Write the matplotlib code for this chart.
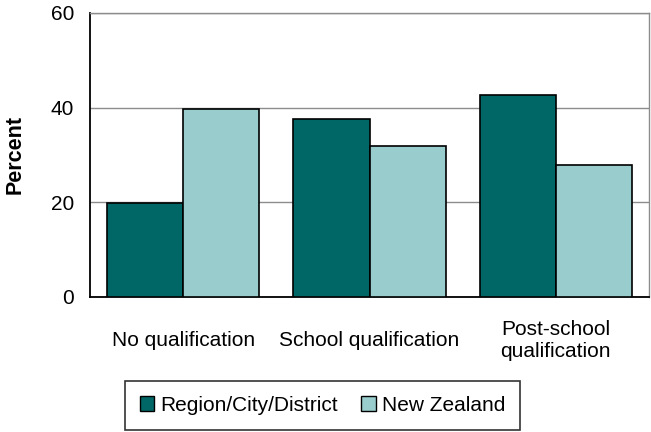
import matplotlib
matplotlib.use("Agg")
import matplotlib.pyplot as plt
from matplotlib.patches import Patch
import numpy as np

categories = ["No qualification", "School qualification", "Post-school\nqualification"]
series_names = ["Region/City/District", "New Zealand"]
region_values = [19.8, 37.6, 42.6]
nz_values = [39.7, 32.0, 27.9]
y_ticks = [0, 20, 40, 60]
colors = ["#006666", "#99CCCC"]

plt.rcParams['font.family'] = ['Liberation Sans', 'DejaVu Sans']
FS = 15

W, H = 651, 432
fig = plt.figure(figsize=(W / 100, H / 100), dpi=100)
ax = fig.add_axes([90 / W, (H - 297) / H, 559 / W, 284 / H])

x = np.arange(len(categories))
bw = 0.408
ax.bar(x - bw / 2, region_values, bw, color=colors[0], edgecolor="black", linewidth=1.2, zorder=3)
ax.bar(x + bw / 2, nz_values, bw, color=colors[1], edgecolor="black", linewidth=1.2, zorder=3)

ax.set_xlim(-0.5, 2.5)
ax.set_ylim(0, 60)
ax.set_yticks(y_ticks)
ax.set_yticklabels([str(v) for v in y_ticks], fontsize=FS)
ax.yaxis.grid(True, color="#8c8c8c", linewidth=1.0, zorder=0)
ax.set_axisbelow(True)

ax.set_xticks(x)
ax.set_xticklabels(categories, fontsize=FS, linespacing=1.2)
for lab in ax.get_xticklabels():
    lab.set_verticalalignment("center")
ax.tick_params(axis="x", length=0, pad=31)
ax.tick_params(axis="y", length=0, pad=11.5)

for s in ["left", "bottom"]:
    ax.spines[s].set_color("black")
    ax.spines[s].set_linewidth(1.3)
for s in ["top", "right"]:
    ax.spines[s].set_color("#8c8c8c")
    ax.spines[s].set_linewidth(1.0)

fig.text(15 / W, (H - 154) / H, "Percent", rotation=90, fontsize=FS + 0.5, fontweight="bold",
         ha="center", va="center")

handles = [Patch(facecolor=colors[0], edgecolor="black", linewidth=1.0),
           Patch(facecolor=colors[1], edgecolor="black", linewidth=1.0)]
leg = fig.legend(handles, series_names, loc="center",
                 bbox_to_anchor=((123 + 522) / 2 / W, (H - 405.5) / H),
                 ncol=2, fontsize=FS, frameon=True, fancybox=False,
                 edgecolor="black", handlelength=0.7, handleheight=0.7,
                 handletextpad=0.3, columnspacing=1.1, borderpad=0.7,
                 borderaxespad=0)
leg.get_frame().set_linewidth(1.2)

fig.savefig("out.png", dpi=100)
